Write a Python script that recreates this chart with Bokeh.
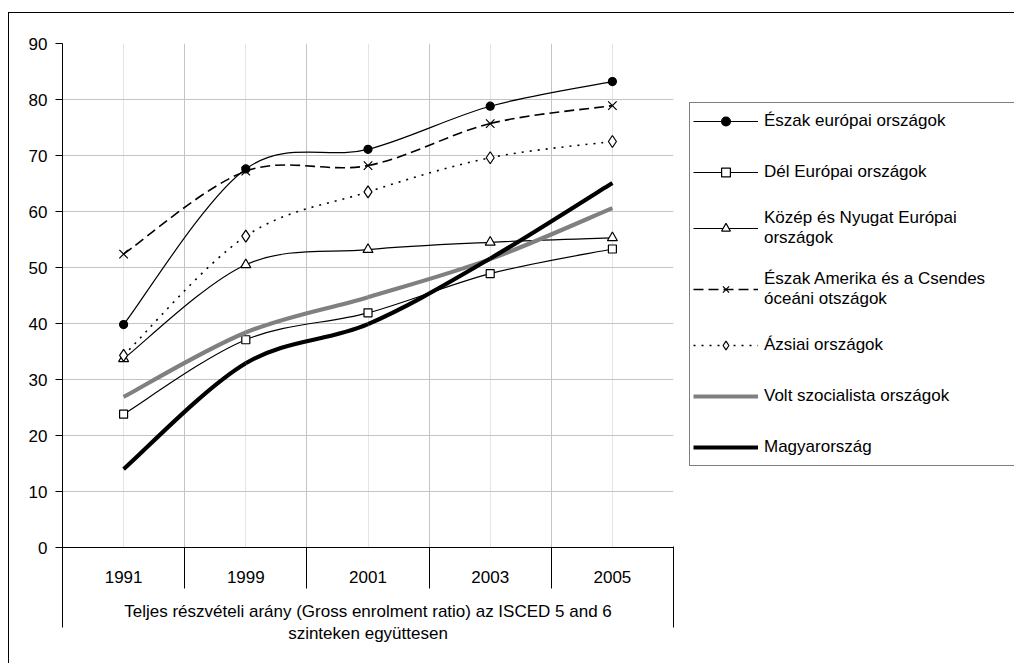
import numpy as np
from bokeh.plotting import figure
from bokeh.models import (Range1d, LinearAxis, FixedTicker, Legend, LegendItem,
                          ColumnDataSource, Grid)
from bokeh.embed import file_html
from bokeh.resources import INLINE

# ---------------- data ----------------
years = ["1991", "1999", "2001", "2003", "2005"]
y_ticks = [0, 10, 20, 30, 40, 50, 60, 70, 80, 90]

eszak_europai = [39.8, 67.6, 71.1, 78.8, 83.2]
del_europai = [23.8, 37.1, 41.9, 48.9, 53.3]
kozep_nyugat = [33.7, 50.5, 53.2, 54.5, 55.3]
eszak_amerika = [52.4, 67.2, 68.2, 75.7, 78.9]
azsiai = [34.3, 55.6, 63.5, 69.6, 72.5]
volt_szocialista = [26.9, 38.4, 44.7, 51.5, 60.6]
magyarorszag = [14.0, 32.9, 39.9, 51.6, 65.1]

series_labels = [
    "Észak európai országok",
    "Dél Európai országok",
    "Közép és Nyugat Európai\nországok",
    "Észak Amerika és a Csendes\nóceáni otszágok",
    "Ázsiai országok",
    "Volt szocialista országok",
    "Magyarország",
]
axis_title = ("Teljes részvételi arány (Gross enrolment ratio) az ISCED 5 and 6\n"
              "szinteken együttesen")

FONT = "Liberation Sans"
n = len(years)
xs = list(range(n))
boundaries = [i + 0.5 for i in range(n - 1)]
edges = [-0.5, n - 0.5]


def smooth_segments(vals):
    """Excel-like smoothed line: cubic Bezier segments through the data points."""
    P = np.column_stack([np.arange(len(vals), dtype=float), np.asarray(vals, float)])
    prev = np.vstack([P[:1], P[:-1]])
    nxt = np.vstack([P[1:], P[-1:]])
    T = (nxt - prev) / 6.0
    c0 = P[:-1] + T[:-1]
    c1 = P[1:] - T[1:]
    return ColumnDataSource(dict(x0=P[:-1, 0], y0=P[:-1, 1], x1=P[1:, 0], y1=P[1:, 1],
                                 cx0=c0[:, 0], cy0=c0[:, 1], cx1=c1[:, 0], cy1=c1[:, 1]))


p = figure(frame_width=611, frame_height=504,
           min_border_left=53, min_border_top=30, min_border_right=340, min_border_bottom=116,
           x_range=Range1d(-0.5, n - 0.5), y_range=Range1d(0, 90),
           x_axis_location=None, y_axis_location=None,
           toolbar_location=None, output_backend="svg",
           background_fill_color="white", border_fill_color="white",
           styles={"margin-top": "12px", "margin-left": "8px",
                   "border-top": "1px solid black", "border-left": "1px solid black"})
p.outline_line_color = None

# grids
p.add_layout(Grid(dimension=0, ticker=FixedTicker(ticks=boundaries + [edges[1]]),
                  grid_line_color="#c4c4c4", grid_line_width=1))
p.add_layout(Grid(dimension=1, ticker=FixedTicker(ticks=y_ticks),
                  grid_line_color="#c4c4c4", grid_line_width=1))

# y axis
yax = LinearAxis(ticker=FixedTicker(ticks=y_ticks), major_tick_out=7, major_tick_in=0,
                 minor_tick_line_color=None, axis_line_color="black",
                 major_tick_line_color="black", major_label_standoff=8,
                 major_label_text_font=FONT, major_label_text_font_size="17px",
                 major_label_text_color="black")
p.add_layout(yax, "left")

# category axis (labels at centres, separators as minor ticks)
xA = LinearAxis(ticker=FixedTicker(ticks=xs, minor_ticks=boundaries),
                major_label_overrides={i: y for i, y in zip(xs, years)},
                major_tick_out=0, major_tick_in=0,
                minor_tick_out=41, minor_tick_in=0, minor_tick_line_color="black",
                axis_line_color="black", major_label_standoff=-18,
                major_label_text_font=FONT, major_label_text_font_size="17px",
                major_label_text_color="black",
                axis_label=axis_title, axis_label_standoff=16,
                axis_label_text_font=FONT, axis_label_text_font_size="17px",
                axis_label_text_font_style="normal", axis_label_text_color="black")
p.add_layout(xA, "below")

# outer edges of the category group
xB = LinearAxis(ticker=FixedTicker(ticks=edges), major_tick_in=100, major_tick_out=-19,
                major_label_overrides={e: "" for e in edges},
                major_tick_line_color="black", minor_tick_line_color=None,
                axis_line_color=None, major_label_standoff=0)
p.add_layout(xB, "below")

styles = [
    dict(vals=eszak_europai, color="black", width=1.2, dash="solid",
         marker="circle", size=8, fill="black"),
    dict(vals=del_europai, color="black", width=1.2, dash="solid",
         marker="square", size=8, fill="white"),
    dict(vals=kozep_nyugat, color="black", width=1.2, dash="solid",
         marker="triangle", size=10, fill="white"),
    dict(vals=eszak_amerika, color="black", width=1.6, dash="10 5",
         marker="x", size=12, fill="black"),
    dict(vals=azsiai, color="black", width=1.6, dash="2 6",
         marker="diamond", size=12, fill="white"),
    dict(vals=volt_szocialista, color="#808080", width=4.2, dash="solid",
         marker=None, size=0, fill=None),
    dict(vals=magyarorszag, color="black", width=4.2, dash="solid",
         marker=None, size=0, fill=None),
]

items = []
for lab, st in zip(series_labels, styles):
    src = smooth_segments(st["vals"])
    rs = [p.bezier(x0="x0", y0="y0", x1="x1", y1="y1", cx0="cx0", cy0="cy0",
                   cx1="cx1", cy1="cy1", source=src, line_color=st["color"],
                   line_width=st["width"], line_dash=st["dash"])]
    if st["marker"]:
        rs.append(p.scatter(x=xs, y=st["vals"], marker=st["marker"], size=st["size"],
                            fill_color=st["fill"], line_color="black", line_width=1.2))
    items.append(LegendItem(label=lab, renderers=rs))

legend = Legend(items=items, location=(16, 81), orientation="vertical",
                glyph_width=65, glyph_height=22, label_standoff=6, padding=3,
                spacing=21, margin=0, label_height=30, label_width=330,
                border_line_color="black", border_line_width=1,
                background_fill_color="white", background_fill_alpha=1.0,
                label_text_font=FONT, label_text_font_size="17px",
                label_text_line_height=1.1,
                label_text_color="black")
p.add_layout(legend, "right")

open("out.html", "w").write(file_html(p, INLINE))
